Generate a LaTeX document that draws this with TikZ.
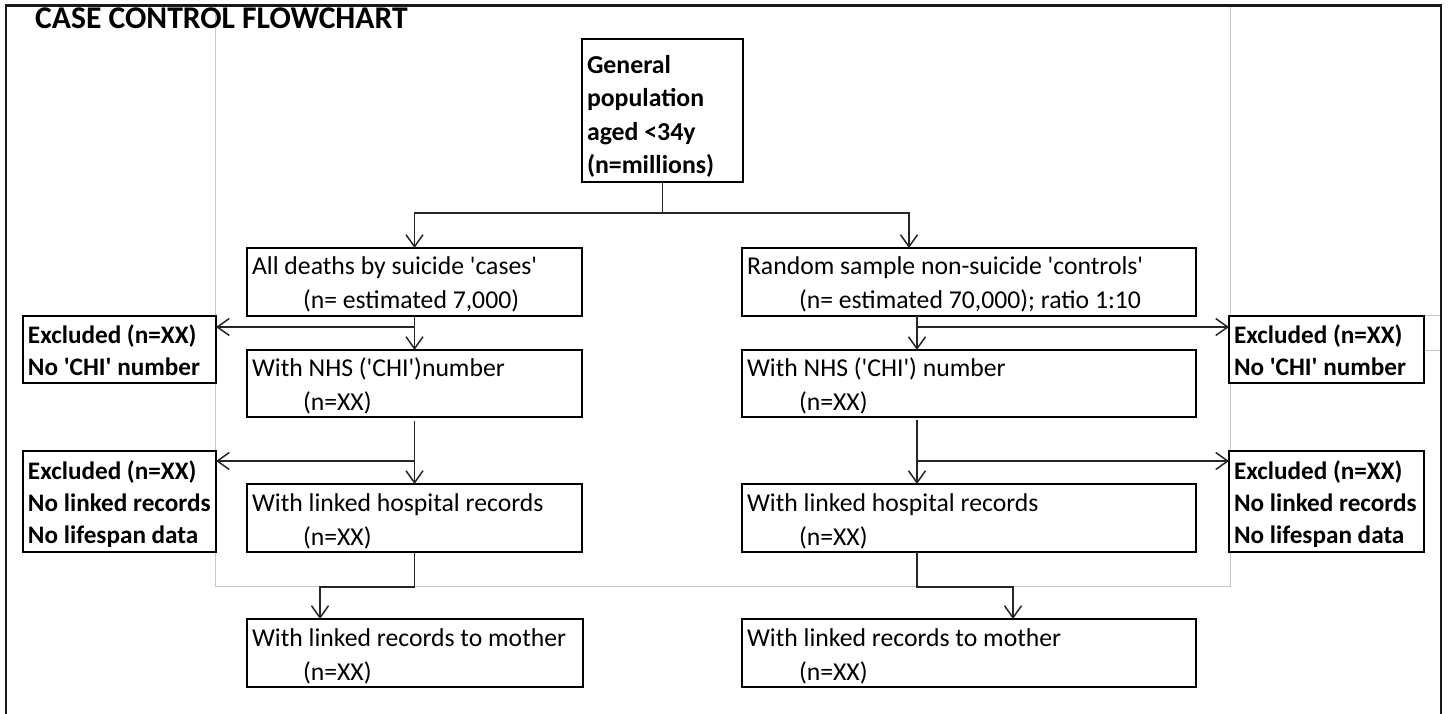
\documentclass[tikz,border=0pt]{standalone}
\usepackage{fontspec}
\setmainfont{Carlito}[Ligatures=TeXOff]
\usetikzlibrary{arrows.meta}
\newcommand\bt[4]{\parbox[c][#2pt][t]{#1pt}{\raggedright\leftskip=5pt\relax\rule{0pt}{#3pt}#4\par}}
\begin{document}
\begin{tikzpicture}[x=1pt,y=-1pt,
  box/.style={draw=black, line width=1.5pt, fill=white, inner sep=0pt, outer sep=0pt, anchor=north west, font=\fontsize{25.7pt}{34pt}\selectfont},
  bbox/.style={box, font=\bfseries\fontsize{25.2pt}{32pt}\selectfont},
  conn/.style={draw=black!85, line width=1.5pt},
  arr/.style={conn, -{Straight Barb[length=12pt,width=17pt]}},
  ]
\useasboundingbox (0,0) rectangle (1448,713);
\fill[white] (0,0) rectangle (1448,713);
% grey background frame
\draw[black!22, line width=1pt] (215,6) rectangle (1230,586);
\draw[black!22, line width=1pt] (1230,315) -- (1441,315) (1230,350) -- (1441,350);
% outer frame
\draw[black!90, line width=2.2pt] (6,720) -- (6,5.5) -- (1441,5.5) -- (1441,720);
% title
\node[anchor=base west, inner sep=0pt, font=\bfseries\fontsize{31.6pt}{31pt}\selectfont] (title) at (35,28) {CASE CONTROL FLOWCHART};
% top box
\node[bbox, font=\bfseries\fontsize{25.8pt}{33.5pt}\selectfont] (gen) at (582,39) {\bt{161}{143}{34}{General\\population\\aged <34y\\(n=millions)}};
% left column
\node[box] (b1) at (247,248) {\bt{335}{68}{26}{All deaths by suicide 'cases'\\\hspace*{51pt}(n= estimated 7,000)}};
\node[box] (b2) at (247,350) {\bt{335}{67}{26}{With NHS ('CHI')number\\\hspace*{51pt}(n=XX)}};
\node[box] (b3) at (247,484) {\bt{335}{68}{27}{With linked hospital records\\\hspace*{51pt}(n=XX)}};
\node[box] (b4) at (247,619) {\bt{336}{68}{27}{With linked records to mother\\\hspace*{51pt}(n=XX)}};
% right column
\node[box] (r1) at (742,248) {\bt{454}{68}{26}{Random sample non-suicide 'controls'\\\hspace*{52pt}(n= estimated 70,000); ratio 1:10}};
\node[box] (r2) at (742,350) {\bt{454}{67}{26}{With NHS ('CHI') number\\\hspace*{52pt}(n=XX)}};
\node[box] (r3) at (742,484) {\bt{454}{68}{27}{With linked hospital records\\\hspace*{52pt}(n=XX)}};
\node[box] (r4) at (742,619) {\bt{454}{68}{27}{With linked records to mother\\\hspace*{52pt}(n=XX)}};
% excluded boxes
\node[bbox] (el1) at (23,316) {\bt{193}{67}{27}{Excluded (n=XX)\\No 'CHI' number}};
\node[bbox] (el2) at (23,451) {\bt{193}{101}{28}{Excluded (n=XX)\\No linked records\\No lifespan data}};
\node[bbox] (er1) at (1229,316) {\bt{195}{67}{27}{Excluded (n=XX)\\No 'CHI' number}};
\node[bbox] (er2) at (1229,451) {\bt{195}{101}{28}{Excluded (n=XX)\\No linked records\\No lifespan data}};
% coordinates
\coordinate (split) at ([yshift=-31pt]gen.south);
\coordinate (pl1) at ([yshift=-11pt]el1.north east);
\coordinate (pl2) at ([yshift=-10pt]el2.north east);
\coordinate (pr1) at ([yshift=-11pt]er1.north west);
\coordinate (pr2) at ([yshift=-10pt]er2.north west);
\coordinate (rv1) at ([xshift=175pt]r1.south west);
\coordinate (rv2) at ([xshift=175pt]r2.south west);
\coordinate (rv3) at ([xshift=175pt]r3.south west);
% connectors
\draw[arr] (gen.south) -- (split) -| (b1.north);
\draw[arr] (split) -| ([xshift=167pt]r1.north west);
\draw[arr] (b1.south) -- (b2.north);
\draw[arr] (b1.south |- pl1) -- (pl1);
\draw[arr] ([yshift=-4pt]b2.south) -- (b3.north);
\draw[arr] (b2.south |- pl2) -- (pl2);
\draw[arr] (b3.south) -- ++(0,35) -| ([xshift=73pt]b4.north west);
\draw[arr] (rv1) -- (rv1 |- r2.north);
\draw[arr] (rv1 |- pr1) -- (pr1);
\draw[arr] ([yshift=-3pt]rv2) -- (rv2 |- r3.north);
\draw[arr] (rv2 |- pr2) -- (pr2);
\draw[arr] (rv3) -- ++(0,35) -| ([xshift=271pt]r4.north west);
\end{tikzpicture}
\end{document}
